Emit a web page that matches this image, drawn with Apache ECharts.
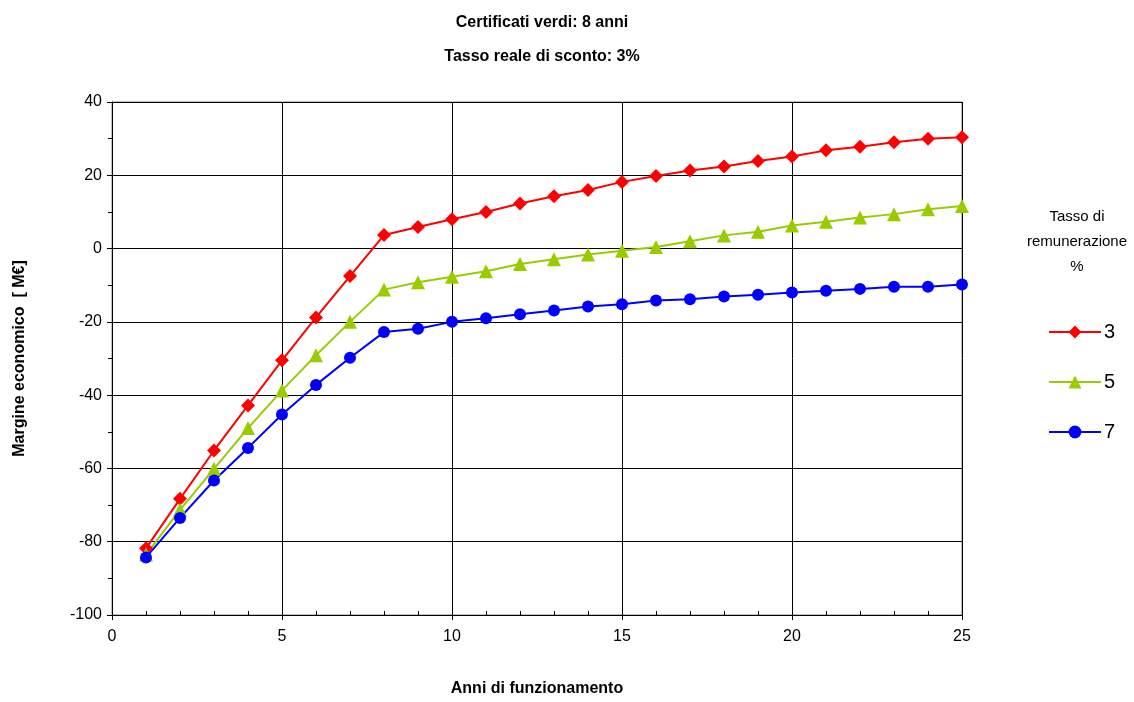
<!DOCTYPE html>
<html><head><meta charset="utf-8">
<script src="https://cdn.jsdelivr.net/npm/echarts@6/dist/echarts.min.js"></script>
<style>html,body{margin:0;padding:0;background:#fff}#c{width:1134px;height:702px}</style>
</head><body><div id="c"></div>
<script>
const years = [1,2,3,4,5,6,7,8,9,10,11,12,13,14,15,16,17,18,19,20,21,22,23,24,25];
const rate3 = [-81.8,-68.3,-55.1,-42.8,-30.5,-18.8,-7.5,3.7,5.9,8.0,10.0,12.3,14.3,16.0,18.2,19.8,21.3,22.4,23.9,25.1,26.8,27.8,29.0,30.0,30.4];
const rate5 = [-83.5,-71.3,-60.1,-49.0,-38.7,-29.1,-20.0,-11.2,-9.2,-7.7,-6.2,-4.2,-2.9,-1.6,-0.6,0.4,2.0,3.6,4.6,6.3,7.3,8.5,9.4,10.7,11.6];
const rate7 = [-84.3,-73.5,-63.3,-54.4,-45.3,-37.2,-29.8,-22.8,-21.9,-20.0,-19.0,-17.9,-16.9,-15.8,-15.2,-14.2,-13.8,-13.1,-12.6,-12.0,-11.5,-11.0,-10.4,-10.4,-9.8];
const seriesNames = ['3','5','7'];
const titleLines = ['Certificati verdi: 8 anni','Tasso reale di sconto: 3%'];
const legendTitle = 'Tasso di\nremunerazione\n%';

const font = 'Liberation Sans, Arial, sans-serif';
const chart = echarts.init(document.getElementById('c'));
const pair = arr => years.map((x,i)=>[x,arr[i]]);
chart.setOption({
  animation:false,
  backgroundColor:'#fff',
  title:{text:titleLines.join('\n'),left:537,textAlign:'center',top:1,
    textStyle:{fontFamily:font,fontSize:16,fontWeight:'bold',color:'#000',lineHeight:34}},
  grid:{left:112,right:172,top:102,bottom:87,show:true,borderColor:'#808080',borderWidth:1,outerBoundsMode:'none',containLabel:false},
  xAxis:[{type:'value',min:0,max:25,interval:5,
    name:'Anni di funzionamento',nameLocation:'middle',nameGap:66,
    nameTextStyle:{fontFamily:font,fontSize:16,fontWeight:'bold',color:'#000'},
    axisLine:{onZero:false,lineStyle:{color:'#000'}},
    axisTick:{show:true,inside:true,length:4,lineStyle:{color:'#000'}},
    minorTick:{show:true,splitNumber:5,length:4,lineStyle:{color:'#000'}},
    axisLabel:{fontFamily:font,fontSize:16,color:'#000',margin:14},
    splitLine:{show:true,lineStyle:{color:'#000',width:1}}},
   {type:'value',min:0,max:25,interval:5,position:'bottom',
    axisLine:{show:false,onZero:false},axisLabel:{show:false},splitLine:{show:false},
    axisTick:{show:true,length:5,lineStyle:{color:'#000'}}}],
  yAxis:{type:'value',min:-100,max:40,interval:20,
    name:'Margine economico  [ M€]',nameLocation:'middle',nameGap:84,
    nameTextStyle:{fontFamily:font,fontSize:16,fontWeight:'bold',color:'#000'},
    axisLine:{show:true,onZero:false,lineStyle:{color:'#000'}},
    axisTick:{show:true,length:5,lineStyle:{color:'#000'}},
    minorTick:{show:true,splitNumber:2,length:4,lineStyle:{color:'#000'}},
    axisLabel:{fontFamily:font,fontSize:16,color:'#000',margin:10},
    splitLine:{show:true,lineStyle:{color:'#000',width:1}}},
  legend:{orient:'vertical',left:1043,top:317,itemWidth:52,itemHeight:16,itemGap:30,
    data:seriesNames,
    textStyle:{fontFamily:font,fontSize:20,color:'#000',padding:[0,0,0,-2]}},
  graphic:[{type:'text',x:1077,y:204,style:{text:legendTitle,fontFamily:font,fontSize:15,fill:'#000',align:'center',lineHeight:25}}],
  series:[
    {name:seriesNames[0],type:'line',data:pair(rate3),symbol:'diamond',symbolSize:14,
      lineStyle:{color:'#ff0000',width:2},itemStyle:{color:'#ff0000'}},
    {name:seriesNames[1],type:'line',data:pair(rate5),symbol:'triangle',symbolSize:14,
      lineStyle:{color:'#99cc00',width:2},itemStyle:{color:'#99cc00'}},
    {name:seriesNames[2],type:'line',data:pair(rate7),symbol:'circle',symbolSize:12,
      lineStyle:{color:'#0000ff',width:2},itemStyle:{color:'#0000ff'}}
  ]
});
</script></body></html>
